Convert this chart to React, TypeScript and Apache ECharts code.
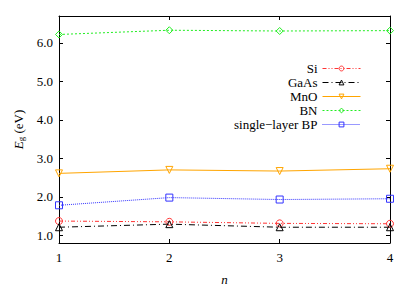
import React, { useEffect, useRef } from "react";
import * as echarts from "echarts";

const nValues = [1, 2, 3, 4];
const siValues = [1.37, 1.35, 1.31, 1.30];
const gaasValues = [1.21, 1.29, 1.21, 1.21];
const mnoValues = [2.61, 2.70, 2.67, 2.73];
const bnValues = [6.22, 6.33, 6.31, 6.32];
const bpValues = [1.78, 1.98, 1.93, 1.95];
const yTicks = [1, 2, 3, 4, 5, 6];
const xTicks = [1, 2, 3, 4];

const FONT = "Liberation Serif";

export default function App() {
  const ref = useRef<HTMLDivElement>(null);
  useEffect(() => {
    if (!ref.current) return;
    const chart = echarts.init(ref.current, undefined, { renderer: "svg" });
    const pair = (vals: number[]) => vals.map((v, i) => [nValues[i], v]);
    const mk = (
      name: string,
      vals: number[],
      color: string,
      symbol: string,
      dash: any,
      rotate = 0
    ) => ({
      name,
      type: "line",
      data: pair(vals),
      symbol,
      symbolSize: 7,
      symbolRotate: rotate,
      showAllSymbol: true,
      itemStyle: { color: "rgba(255,255,255,0)", borderColor: color, borderWidth: 1 },
      lineStyle: { color, width: 1, type: dash },
      emphasis: { disabled: true },
    });
    const yCommon = {
      type: "value",
      min: 0.8,
      max: 6.7,
      splitLine: { show: false },
      axisLine: { show: true, onZero: false, lineStyle: { color: "#000", width: 1 } },
    };
    const xCommon = {
      type: "value",
      min: 1,
      max: 4,
      interval: 1,
      splitLine: { show: false },
      axisLine: { show: true, onZero: false, lineStyle: { color: "#000", width: 1 } },
    };
    const labelStyle = { fontFamily: FONT, fontSize: 13, fontWeight: "normal", color: "#000" };
    chart.setOption({
      animation: false,
      backgroundColor: "#fff",
      textStyle: { fontFamily: FONT, fontWeight: "normal" },
      grid: { left: 59, right: 25, top: 16, bottom: 44 },
      legend: {
        orient: "vertical",
        right: 49,
        top: 57,
        align: "right",
        itemWidth: 38,
        itemHeight: 6,
        itemGap: 1,
        itemStyle: { borderWidth: 1 },
        lineStyle: { width: 1, type: "inherit", color: "inherit" },
        textStyle: { ...labelStyle, lineHeight: 13 },
        data: ["Si", "GaAs", "MnO", "BN", "single\u2212layer BP"],
      },
      xAxis: [
        {
          ...xCommon,
          position: "bottom",
          name: "n",
          nameLocation: "middle",
          nameGap: 30,
          nameTextStyle: { ...labelStyle, fontStyle: "italic" },
          axisTick: { show: true, inside: true, length: 4, customValues: xTicks, lineStyle: { color: "#000" } },
          axisLabel: { ...labelStyle, margin: 8, customValues: xTicks },
        },
        {
          ...xCommon,
          position: "top",
          axisTick: { show: true, inside: true, length: 4, customValues: xTicks, lineStyle: { color: "#000" } },
          axisLabel: { show: false },
        },
      ],
      yAxis: [
        {
          ...yCommon,
          position: "left",
          name: "{i|E}{s|g} (eV)",
          nameLocation: "middle",
          nameGap: 32,
          nameRotate: 90,
          nameTextStyle: {
            ...labelStyle,
            rich: {
              i: { ...labelStyle, fontStyle: "italic" },
              s: { ...labelStyle, fontSize: 9, verticalAlign: "bottom", padding: [6, 0, 0, 0] },
            },
          },
          axisTick: { show: true, inside: true, length: 4, customValues: yTicks, lineStyle: { color: "#000" } },
          axisLabel: {
            ...labelStyle,
            margin: 6,
            customValues: yTicks,
            formatter: (v: number) => v.toFixed(1),
          },
        },
        {
          ...yCommon,
          position: "right",
          axisTick: { show: true, inside: true, length: 4, customValues: yTicks, lineStyle: { color: "#000" } },
          axisLabel: { show: false },
        },
      ],
      series: [
        mk("Si", siValues, "#ff3333", "circle", [4, 2, 1, 2, 1, 2]),
        mk("GaAs", gaasValues, "#000000", "triangle", [6, 3, 1, 3]),
        mk("MnO", mnoValues, "#ffa500", "triangle", "solid", 180),
        mk("BN", bnValues, "#22ee22", "diamond", [2, 2]),
        mk("single\u2212layer BP", bpValues, "#3333ff", "rect", [1, 1]),
      ],
    });
    return () => chart.dispose();
  }, []);
  return (
    <div
      ref={ref}
      style={{ position: "fixed", left: 0, top: 0, width: 415, height: 291 }}
    />
  );
}
